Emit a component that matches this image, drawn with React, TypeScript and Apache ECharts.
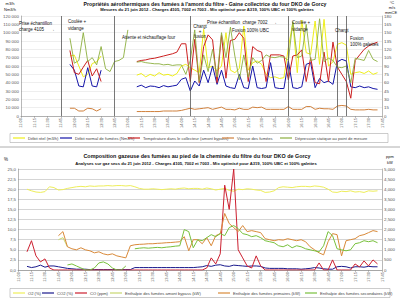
import React, { useEffect, useRef } from "react";
import * as echarts from "echarts";

const times = [
  "11:00","11:05","11:10","11:15","11:20","11:25","11:30","11:35","11:40","11:45",
  "11:50","11:55","12:00","12:05","12:10","12:15","12:20","12:25","12:30","12:35",
  "12:40","12:45","12:50","12:55","13:00","13:05","13:10","13:15","13:20","13:25",
  "13:30","13:35","13:40","13:45","13:50","13:55","14:00","14:05","14:10","14:15",
  "14:20","14:25","14:30","14:35","14:40","14:45","14:50","14:55","15:00","15:05",
  "15:10","15:15","15:20","15:25","15:30","15:35","15:40","15:45","15:50","15:55",
  "16:00","16:05","16:10","16:15","16:20","16:25","16:30","16:35","16:40","16:45",
  "16:50","16:55","17:00","17:05","17:10","17:15","17:20","17:25","17:30","17:35",
  "17:40","17:45",
];

const eventTimes = ["11:45", "12:45", "14:10", "16:00", "16:55", "17:05"];

const n = null;

// Top chart — left axis (m3/h, Nm3/h)
const debitReel = [
  n,n,n,n,n,n,n,n,n,n,
  n,72000,73000,60000,47000,50000,63000,65000,72000,n,
  n,n,n,n,n,n,49000,51000,47000,50000,
  48000,52000,49000,50000,48000,51000,60000,62000,58000,55000,
  52000,104000,58000,60000,54000,60000,100000,55000,52000,57000,
  108000,55000,64000,66000,62000,50000,46000,47000,45000,46000,
  82000,112000,52000,115000,76000,74000,114000,62000,116000,60000,
  65000,86000,88000,85000,50000,52000,53000,51000,54000,50000,
  52000,n,
];
const debitNormal = [
  n,n,n,n,n,n,n,n,n,n,
  n,62000,55000,36000,35000,58000,36000,35000,55000,n,
  n,n,n,n,n,n,35000,37000,34000,36000,
  35500,34000,36500,35000,36000,37000,44000,46000,30000,42000,
  36000,55000,40000,60000,38000,55000,36000,34000,33000,50000,
  34000,33000,60000,34000,33000,34000,64000,34000,33000,33000,
  66000,34000,33000,35000,62000,64000,34000,45000,40000,42000,
  38000,65000,68000,66000,35000,34000,36000,34000,35000,33000,
  32000,n,
];
// Top chart — right axis (°C, m/s, mmCE)
const temperature = [
  n,n,n,n,n,n,n,n,n,n,
  n,118,78,75,88,100,72,85,62,n,
  n,n,n,n,n,n,98,100,101,103,
  104,106,108,110,112,115,130,130,62,138,
  60,125,146,137,60,146,68,136,138,150,
  140,62,125,118,115,62,110,110,110,108,
  65,108,110,119,62,105,60,58,115,62,
  133,88,75,62,32,100,110,120,126,130,
  133,n,
];
const vitesse = [
  n,n,n,n,n,n,n,n,n,n,
  n,14,14,9,9,14,13,9,13,n,
  n,n,n,n,n,n,8,8,8,8,
  8,8,9,9,9,9,10,12,14,12,
  13,14,15,12,14,16,12,12,11,14,
  12,12,16,15,16,12,12,12,12,12,
  17,12,12,12,17,17,12,14,13,13,
  12,18,19,18,12,11,11,11,12,11,
  11,n,
];
const depression = [
  n,n,n,n,n,n,n,n,n,n,
  n,140,95,100,150,98,105,92,125,85,
  80,98,100,105,155,n,97,98,96,95,
  94,94,92,93,91,92,92,75,100,155,
  62,110,80,120,70,150,105,160,108,65,
  110,70,105,95,100,110,106,105,107,106,
  100,170,105,108,165,100,102,175,98,104,
  100,88,87,90,60,104,102,100,118,102,
  98,n,
];

// Bottom chart — left axis (%)
const o2 = [
  n,n,20.0,19.6,19.3,19.2,19.4,20.6,20.4,19.8,
  19.9,20.2,20.4,20.6,20.7,20.6,20.8,20.7,20.8,20.8,
  20.9,20.8,20.9,20.9,20.8,20.9,20.6,20.2,20.0,20.0,
  20.1,20.0,19.9,20.0,20.1,20.0,20.2,20.3,20.1,20.2,
  20.2,20.0,20.3,20.1,19.8,20.0,20.2,19.7,19.5,20.0,
  19.9,20.1,20.0,19.8,19.7,19.2,19.3,19.6,20.4,20.6,
  20.5,20.4,20.6,20.7,20.7,20.6,20.8,20.7,20.5,20.0,
  19.3,19.2,19.5,19.4,19.6,19.3,19.4,19.2,19.6,19.5,
  19.6,n,
];
const co2 = [
  n,n,0.9,0.6,0.8,1.2,0.7,1.0,1.0,0.8,
  0.6,0.4,0.3,0.2,0.2,0.2,0.1,0.1,0.1,0.1,
  0.1,0.1,0.1,0.1,0.1,0.1,0.6,0.6,0.6,0.6,
  0.6,0.6,0.6,0.6,0.6,0.6,0.6,0.6,0.6,0.6,
  0.7,0.8,1.1,0.9,1.2,1.3,1.0,0.9,1.2,1.1,
  1.0,0.9,1.0,1.0,0.9,0.5,0.4,0.4,0.4,0.4,
  0.3,0.3,0.3,0.2,0.3,0.4,0.6,0.5,0.3,0.2,
  0.2,0.8,0.9,0.8,0.5,0.8,0.8,0.7,0.9,0.8,
  0.8,n,
];
// Bottom chart — right axis (ppm, kW)
const co = [
  n,n,900,1450,700,400,550,100,0,0,
  0,0,0,0,0,0,0,0,0,0,
  0,0,0,0,0,0,0,0,0,0,
  0,0,0,0,0,0,0,0,0,0,
  0,0,100,600,300,800,4200,3000,5000,1000,
  600,200,100,700,200,0,0,0,0,0,
  0,0,0,0,0,0,0,350,0,0,
  500,0,0,0,0,300,150,450,200,500,
  300,n,
];
const enthAmont = [
  n,n,n,n,n,n,n,n,n,1500,
  1600,1150,n,n,n,n,n,n,n,n,
  n,n,n,n,n,n,n,n,n,n,
  n,n,n,n,n,n,n,n,n,n,
  n,n,n,n,n,n,n,n,n,n,
  n,n,n,n,n,n,n,n,n,n,
  n,n,n,n,n,n,n,n,n,n,
  n,n,n,n,n,n,n,n,n,n,
  n,n,
];
const enthPrimaires = [
  n,n,n,n,n,n,n,n,n,1700,
  1900,1150,1050,1000,1100,1000,950,850,900,800,
  750,800,700,650,600,1200,1250,1270,1280,1300,
  1300,1320,1330,1350,1360,1380,1400,1650,950,1500,
  1500,1300,1600,1200,1700,1800,2800,2300,2100,1900,
  2200,1900,1950,1900,1850,1550,1500,1450,1500,1480,
  1550,1500,1450,1500,1400,1150,1000,850,750,1400,
  1800,1750,700,1450,1500,1550,1700,1750,1850,1950,
  1900,n,
];
const enthSecondaires = [
  n,n,n,n,n,n,n,n,n,n,
  n,250,300,200,100,0,0,100,350,400,
  300,100,0,0,200,n,1050,1080,1100,1080,
  1100,1120,1100,1130,1150,1180,1200,2000,1900,1100,
  1500,1450,1600,1750,1650,1800,1700,2100,2200,2050,
  1800,1750,1650,1700,1600,1450,1400,1350,1200,1150,
  1250,1100,1200,1150,1050,1000,950,900,1200,1900,
  1700,1050,1000,950,1000,1300,1350,1450,1400,1450,
  1350,n,
];

const topNames = [
  "Débit réel (m3/h)",
  "Débit normal de fumées (Nm3/h)",
  "Température dans le collecteur (amont bypass)",
  "Vitesse des fumées",
  "Dépression statique au point de mesure",
];
const bottomNames = [
  "O2 (%)",
  "CO2 (%)",
  "CO (ppm)",
  "Enthalpie des fumées amont bypass (kW)",
  "Enthalpie des fumées primaires (kW)",
  "Enthalpie des fumées secondaires (kW)",
];

const FONT = '"Liberation Sans", Arial, "DejaVu Sans", sans-serif';

function txt(text: string, x: number, y: number, size: number, opts: any = {}) {
  const align = opts.align || "left";
  return {
    type: "text",
    x,
    y,
    silent: true,
    z: 100,
    style: {
      text,
      fill: opts.fill || "#111",
      font: `${opts.bold ? "bold " : ""}${size}px ${FONT}`,
      align,
      textAlign: align,
      verticalAlign: "middle",
      textVerticalAlign: "middle",
    },
  };
}

export default function App() {
  const ref = useRef<HTMLDivElement>(null);
  useEffect(() => {
    if (!ref.current) return;
    const chart = echarts.init(ref.current, undefined, { renderer: "svg" });

    const topColors = ["#eeee1a", "#1414a8", "#cc2020", "#d0803c", "#8caf3e"];
    const bottomColors = ["#eeee5a", "#1a1a8c", "#cc2030", "#c8d870", "#d98a3a", "#78c03c"];

    const lineSeries = (name: string, data: any[], color: string, xi: number, yi: number, extra: any = {}) => ({
      name,
      type: "line",
      data,
      xAxisIndex: xi,
      yAxisIndex: yi,
      symbol: "none",
      showSymbol: false,
      connectNulls: false,
      lineStyle: { color, width: 1 },
      itemStyle: { color },
      ...extra,
    });

    const xAxisBase = (gi: number) => ({
      gridIndex: gi,
      type: "category",
      data: times,
      boundaryGap: false,
      axisLabel: { rotate: 90, interval: 2, fontSize: 4, margin: 2, color: "#555", fontFamily: FONT },
      axisTick: { interval: 2, length: 2, lineStyle: { color: "#888", width: 0.5 } },
      axisLine: { lineStyle: { color: "#888", width: 0.6 } },
      splitLine: { show: false },
    });

    const yLabel = { fontSize: 4.4, margin: 2, color: "#555", fontFamily: FONT };

    const legendItems = [
      { name: topNames[0], x: 13, y: 136, c: topColors[0] },
      { name: topNames[1], x: 60, y: 136, c: topColors[1] },
      { name: topNames[2], x: 128, y: 136, c: topColors[2] },
      { name: topNames[3], x: 222, y: 136, c: topColors[3] },
      { name: topNames[4], x: 280, y: 136, c: topColors[4] },
      { name: bottomNames[0], x: 13, y: 291, c: bottomColors[0] },
      { name: bottomNames[1], x: 42, y: 291, c: bottomColors[1] },
      { name: bottomNames[2], x: 75, y: 291, c: bottomColors[2] },
      { name: bottomNames[3], x: 110, y: 291, c: bottomColors[3] },
      { name: bottomNames[4], x: 218, y: 291, c: bottomColors[4] },
      { name: bottomNames[5], x: 305, y: 291, c: bottomColors[5] },
    ];

    const option: any = {
      animation: false,
      textStyle: { fontFamily: FONT },
      grid: [
        { left: 18, right: 18, top: 16, height: 100 },
        { left: 18, right: 18, top: 169, height: 101 },
      ],
      xAxis: [xAxisBase(0), xAxisBase(1)],
      yAxis: [
        {
          gridIndex: 0, type: "value", min: 0, max: 120000, interval: 10000, position: "left",
          axisLabel: { ...yLabel, formatter: (v: number) => (v === 0 ? "0" : `${Math.round(v / 1000)} 000`) },
          axisLine: { show: true, lineStyle: { color: "#888", width: 0.6 } },
          axisTick: { show: false },
          splitLine: { show: true, lineStyle: { color: "#dcdcdc", width: 0.5 } },
        },
        {
          gridIndex: 0, type: "value", min: 0, max: 180, interval: 15, position: "right",
          axisLabel: { ...yLabel },
          axisLine: { show: true, lineStyle: { color: "#888", width: 0.6 } },
          axisTick: { show: false },
          splitLine: { show: false },
        },
        {
          gridIndex: 1, type: "value", min: 0, max: 25, interval: 2.5, position: "left",
          axisLabel: { ...yLabel, formatter: (v: number) => v.toFixed(1).replace(".", ",") },
          axisLine: { show: true, lineStyle: { color: "#888", width: 0.6 } },
          axisTick: { show: false },
          splitLine: { show: true, lineStyle: { color: "#aaaaaa", width: 0.5 } },
        },
        {
          gridIndex: 1, type: "value", min: 0, max: 5000, interval: 500, position: "right",
          axisLabel: { ...yLabel },
          axisLine: { show: true, lineStyle: { color: "#888", width: 0.6 } },
          axisTick: { show: false },
          splitLine: { show: false },
        },
      ],
      legend: legendItems.map((it) => ({
        data: [{ name: it.name, icon: "rect", itemStyle: { color: it.c } }],
        left: it.x,
        top: it.y,
        padding: 0,
        itemGap: 0,
        itemWidth: 12,
        itemHeight: 1.2,
        selectedMode: false,
        textStyle: { fontSize: 4.1, color: "#444", fontFamily: FONT, padding: [0, 0, 0, -2] },
      })),
      series: [
        lineSeries(topNames[0], debitReel, topColors[0], 0, 0, {
          markLine: {
            silent: true,
            symbol: ["none", "none"],
            label: { show: false },
            lineStyle: { color: "#555", type: "solid", width: 0.8 },
            data: eventTimes.map((t) => ({ xAxis: t })),
          },
        }),
        lineSeries(topNames[1], debitNormal, topColors[1], 0, 0),
        lineSeries(topNames[2], temperature, topColors[2], 0, 1),
        lineSeries(topNames[3], vitesse, topColors[3], 0, 1),
        lineSeries(topNames[4], depression, topColors[4], 0, 1, { lineStyle: { color: topColors[4], width: 0.9 } }),
        lineSeries(bottomNames[0], o2, bottomColors[0], 1, 2),
        lineSeries(bottomNames[1], co2, bottomColors[1], 1, 2),
        lineSeries(bottomNames[2], co, bottomColors[2], 1, 3),
        lineSeries(bottomNames[3], enthAmont, bottomColors[3], 1, 3),
        lineSeries(bottomNames[4], enthPrimaires, bottomColors[4], 1, 3),
        lineSeries(bottomNames[5], enthSecondaires, bottomColors[5], 1, 3),
      ],
      graphic: [
        { type: "rect", shape: { x: 10, y: 133.5, width: 378, height: 9 }, style: { fill: "none", stroke: "#999", lineWidth: 0.5 }, silent: true },
        { type: "rect", shape: { x: 10, y: 288.5, width: 380, height: 9 }, style: { fill: "none", stroke: "#999", lineWidth: 0.5 }, silent: true },
        { type: "line", shape: { x1: 0, y1: 147, x2: 400, y2: 147 }, style: { stroke: "#999", lineWidth: 0.8 }, silent: true },
        txt("Propriétés aérothermiques des fumées à l'amont du filtre - Gaine collectrice du four DKO de Gorcy", 205, 3.5, 5.2, { bold: true, align: "center" }),
        txt("Mesures du 21 juin 2012 - Charges 4105, 7002 et 7003 - Mix optimisé pour A319, 100% UBC et 100% galettes", 207, 9.5, 4.2, { bold: true, align: "center" }),
        txt("Composition gazeuse des fumées au pied de la cheminée du filtre du four DKO de Gorcy", 197, 156, 5.4, { bold: true, align: "center" }),
        txt("Analyses sur gaz secs du 21 juin 2012 - Charges 4105, 7002 et 7003 - Mix optimisé pour A319, 100% UBC et 100% galettes", 196, 163, 4.2, { bold: true, align: "center" }),
        txt("m3/h", 10, 3, 4, { align: "center" }),
        txt("Nm3/h", 10, 9, 4, { align: "center" }),
        txt("°C", 392, 2.5, 4, { align: "center" }),
        txt("m/s", 392, 7.5, 4, { align: "center" }),
        txt("mmCE", 391, 12.5, 4, { align: "center" }),
        txt("%", 6, 159, 4.5, { align: "center" }),
        txt("ppm", 390, 156, 4, { align: "center" }),
        txt("kW", 390, 162, 4, { align: "center" }),
        txt("Prise échantillon", 19, 23, 4.5),
        txt("charge 4105     →", 19, 29, 4.5),
        txt("Coulée +", 68, 21, 4.5),
        txt("vidange", 68, 28, 4.5),
        txt("Attente et réchauffage four", 122, 37, 4.5),
        txt("Chargt", 200, 26, 4.5, { align: "center" }),
        txt("+", 200, 31, 4.5, { align: "center" }),
        txt("fusion", 200, 36, 4.5, { align: "center" }),
        txt("Prise échantillon  charge 7002    →", 207, 22, 4.5),
        txt("Fusion 100% UBC", 232, 30, 4.5),
        txt("Coulée +", 292, 22, 4.5),
        txt("vidange", 292, 29, 4.5),
        txt("Chargt", 335, 30, 4.5),
        txt("Fusion", 350, 38, 4.5),
        txt("100% galettes", 350, 44, 4.5),
      ],
    };

    chart.setOption(option);
    return () => chart.dispose();
  }, []);

  return <div ref={ref} style={{ width: 400, height: 300, position: "absolute", left: 0, top: 0, background: "#fff" }} />;
}
